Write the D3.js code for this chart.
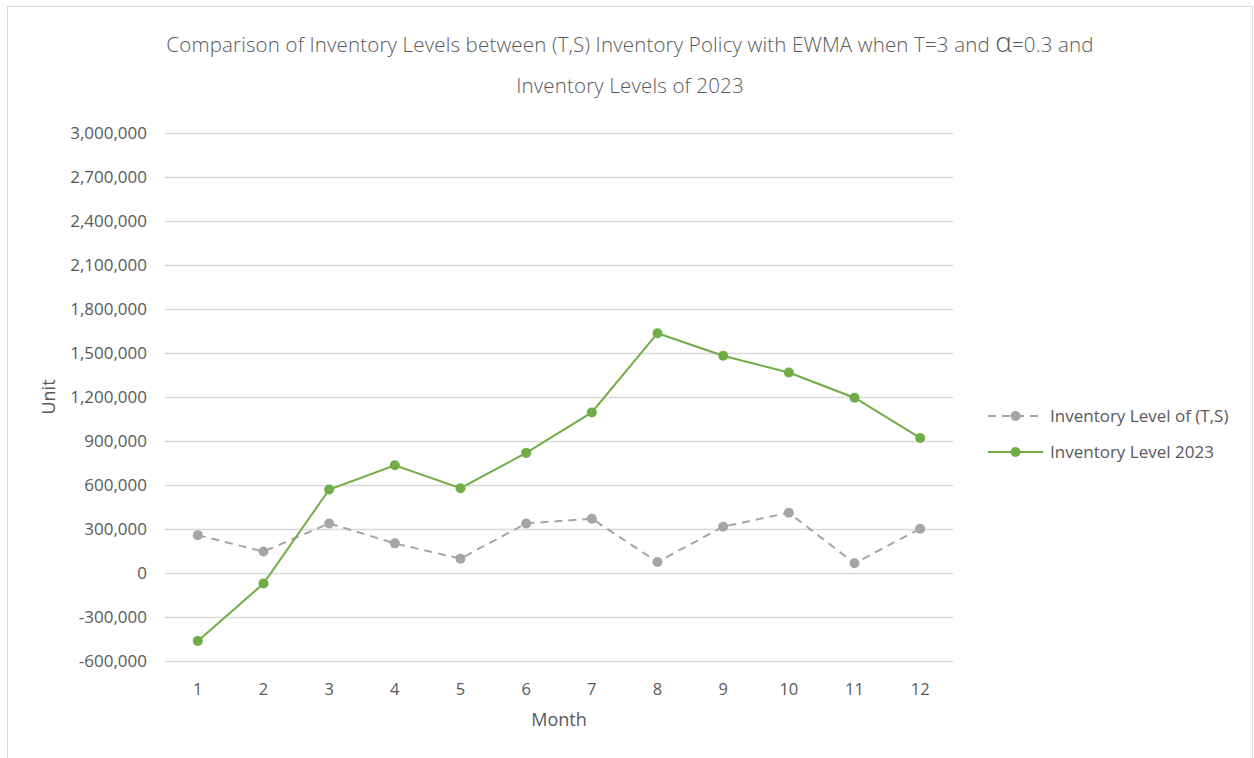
<!DOCTYPE html>
<html>
<head>
<meta charset="utf-8">
<script src="https://cdnjs.cloudflare.com/ajax/libs/d3/7.8.5/d3.min.js"></script>
<style>
  body { margin: 0; background: #fff; }
  text { font-family: "Open Sans", "Noto Sans", sans-serif; fill: #595959; }
</style>
</head>
<body>
<div id="chart"></div>
<script>
var months = [1, 2, 3, 4, 5, 6, 7, 8, 9, 10, 11, 12];
var levelTS = [258000, 146000, 338000, 202000, 98000, 338000, 370000, 75000, 316000, 411000, 66000, 302000];
var level2023 = [-463000, -72000, 569000, 735000, 578000, 819000, 1095000, 1635000, 1481000, 1367000, 1195000, 921000];
var yTicks = [-600000, -300000, 0, 300000, 600000, 900000, 1200000, 1500000, 1800000, 2100000, 2400000, 2700000, 3000000];
var seriesNames = ['Inventory Level of (T,S)', 'Inventory Level 2023'];

var width = 1254, height = 758;
var margin = {left: 165, right: 301, top: 133, bottom: 97};

var svg = d3.select('#chart')
  .append('svg')
  .attr('width', width)
  .attr('height', height);

// chart border
svg.append('rect')
  .attr('x', 7.5).attr('y', 6.5)
  .attr('width', 1245).attr('height', 760)
  .attr('fill', 'none')
  .attr('stroke', '#d9d9d9');

var x = d3.scaleBand()
  .domain(months)
  .range([margin.left, width - margin.right]);

var y = d3.scaleLinear()
  .domain([-600000, 3000000])
  .range([height - margin.bottom, margin.top]);

// excel style: plain hyphen for negatives
var fmt = function(d) { return d3.format(',')(d).replace('\u2212', '-'); };

// gridlines + y labels
var yAxis = svg.append('g')
  .attr('transform', 'translate(' + margin.left + ',0)')
  .call(d3.axisLeft(y).tickValues(yTicks).tickFormat(fmt)
    .tickSize(-(width - margin.left - margin.right)).tickPadding(18));
yAxis.select('.domain').remove();
yAxis.selectAll('line').attr('stroke', '#d9d9d9').attr('stroke-width', 1.3);
yAxis.selectAll('text').style('font-size', '17px').attr('fill', '#595959');

// x labels
var xAxis = svg.append('g')
  .attr('transform', 'translate(0,' + (height - margin.bottom) + ')')
  .call(d3.axisBottom(x).tickSize(0).tickPadding(22));
xAxis.select('.domain').remove();
xAxis.selectAll('text').style('font-size', '16.5px').attr('fill', '#595959');

var cx = function(d, i) { return x(months[i]) + x.bandwidth() / 2; };

var line = d3.line()
  .x(function(d, i) { return cx(d, i); })
  .y(function(d) { return y(d); });

// (T,S) series
svg.append('path')
  .datum(levelTS)
  .attr('d', line)
  .attr('fill', 'none')
  .attr('stroke', '#a5a5a5')
  .attr('stroke-width', 2)
  .attr('stroke-dasharray', '8,6');
svg.selectAll('.dotTS')
  .data(levelTS)
  .enter()
  .append('circle')
  .attr('cx', cx)
  .attr('cy', function(d) { return y(d); })
  .attr('r', 5)
  .attr('fill', '#a5a5a5');

// 2023 series
svg.append('path')
  .datum(level2023)
  .attr('d', line)
  .attr('fill', 'none')
  .attr('stroke', '#70ad47')
  .attr('stroke-width', 2);
svg.selectAll('.dot23')
  .data(level2023)
  .enter()
  .append('circle')
  .attr('cx', cx)
  .attr('cy', function(d) { return y(d); })
  .attr('r', 5)
  .attr('fill', '#70ad47');

// title
var title = svg.append('text')
  .attr('text-anchor', 'middle')
  .style('font-size', '20.5px')
  .style('letter-spacing', '0.15px')
  .style('font-weight', 300);
title.append('tspan').attr('x', 630).attr('y', 52)
  .text('Comparison of Inventory Levels between (T,S) Inventory Policy with EWMA when T=3 and ');
title.append('tspan').style('font-size', '28px').text('α');
title.append('tspan').text('=0.3 and');
svg.append('text')
  .attr('x', 630).attr('y', 93)
  .attr('text-anchor', 'middle')
  .style('font-size', '20.5px')
  .style('letter-spacing', '0.15px')
  .style('font-weight', 300)
  .text('Inventory Levels of 2023');

// axis titles
svg.append('text')
  .attr('transform', 'translate(55,' + y(1200000) + ') rotate(-90)')
  .attr('text-anchor', 'middle')
  .style('font-size', '18px')
  .text('Unit');
svg.append('text')
  .attr('x', (margin.left + width - margin.right) / 2)
  .attr('y', 726)
  .attr('text-anchor', 'middle')
  .style('font-size', '18px')
  .text('Month');

// legend
var legend = svg.selectAll('.legend')
  .data(seriesNames)
  .enter()
  .append('g')
  .attr('class', 'legend')
  .attr('transform', function(d, i) { return 'translate(988,' + (416 + i * 36) + ')'; });
legend.append('line')
  .attr('x1', 0).attr('x2', 55)
  .attr('stroke', function(d, i) { return i ? '#70ad47' : '#a5a5a5'; })
  .attr('stroke-width', 2)
  .attr('stroke-dasharray', function(d, i) { return i ? null : '8,6'; });
legend.append('circle')
  .attr('cx', 27.5).attr('r', 5)
  .attr('fill', function(d, i) { return i ? '#70ad47' : '#a5a5a5'; });
legend.append('text')
  .attr('x', 62).attr('dy', '0.35em')
  .style('font-size', '17px')
  .text(function(d) { return d; });
</script>
</body>
</html>
